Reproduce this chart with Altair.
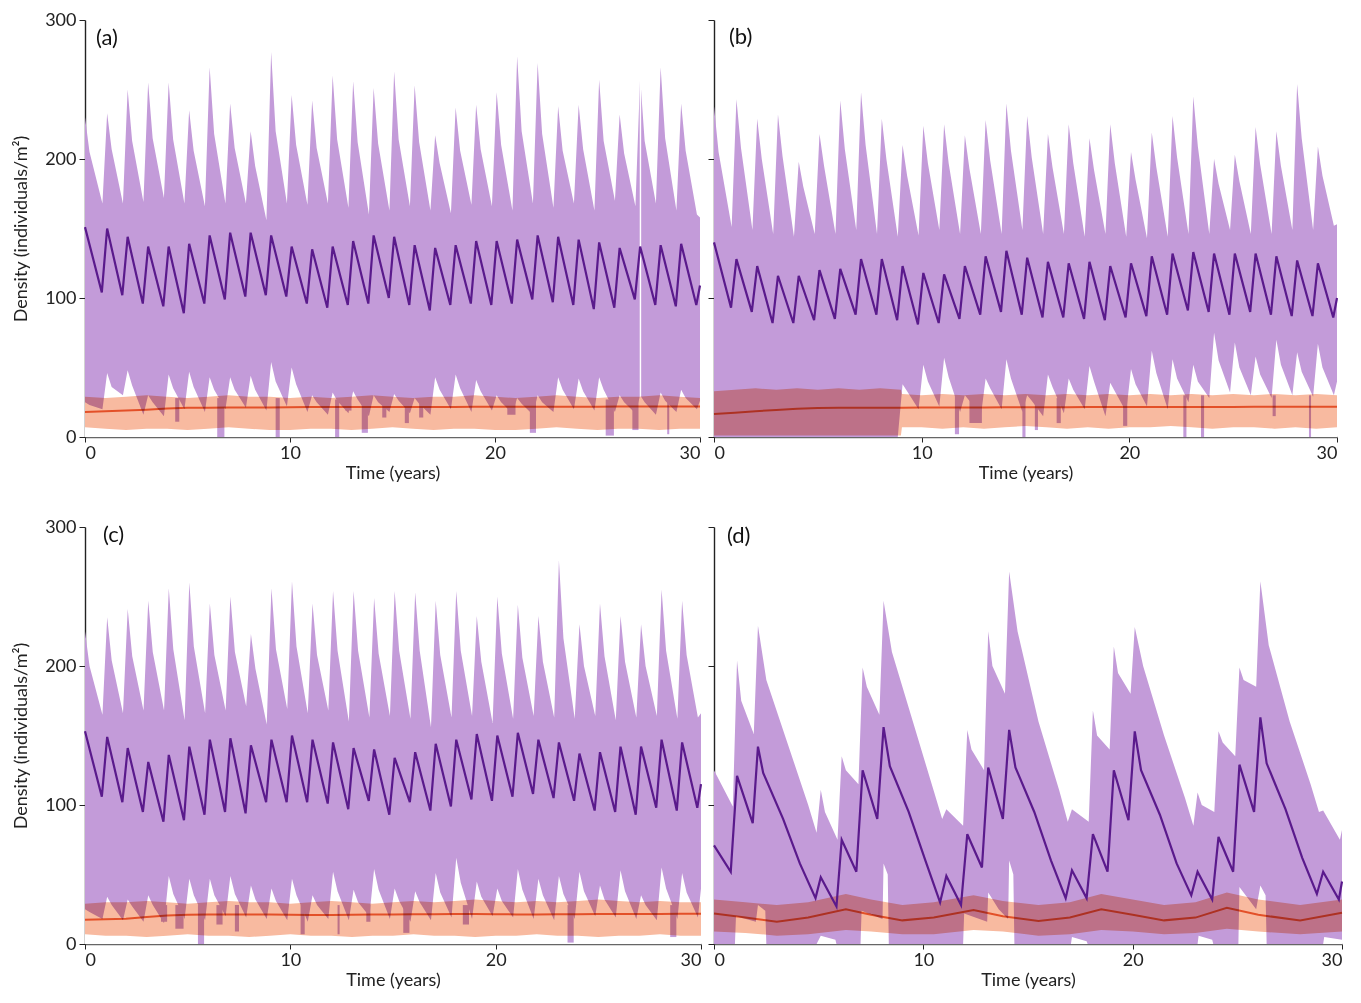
import altair as alt
import pandas as pd

FONT = "Lato"
PURPLE_BAND = "#C39BD9"
PURPLE_LINE = "#5A1A8C"
ORANGE_BAND = "#F8BAA0"
ORANGE_LINE = "#EA6E40"

# ---------------- panel (a) ----------------
A_MEAN_PK = [151,150,144,137,137,139,145,147,147,145,137,135,137,141,145,144,138,136,138,141,141,142,145,144,142,140,136,137,138,139]
A_MEAN_TR = [104,102,96,94,89,96,99,101,102,101,96,93,95,96,100,95,91,95,96,95,96,99,97,95,92,93,99,95,94,95]
A_MEAN_END = 109
A_UP_PK = [230,233,250,255,255,235,266,240,220,277,246,242,260,256,251,263,253,217,237,239,248,274,269,238,239,257,232,259,266,240]
A_UP_SH = [205,207,213,215,214,206,218,208,195,220,210,208,214,212,211,214,212,197,206,207,210,220,218,206,207,213,204,213,215,206]
A_UP_TR = [168,168,169,172,168,166,168,168,156,168,167,168,165,160,163,166,163,161,167,166,163,168,165,168,163,170,166,168,163,160]
A_UP_END = 158
A_LO_PK = [25,46,48,30,45,47,43,43,44,54,50,30,32,33,30,31,28,43,45,41,30,28,30,43,42,43,30,30,32,34]
A_LO_SH = [23,36,37,25,35,36,34,34,34,40,38,25,26,27,25,26,24,34,35,33,25,24,25,34,33,34,25,25,26,28]
A_LO_TR = [20,30,16,15,20,18,20,21,19,22,18,16,17,15,18,17,16,20,18,19,17,16,18,20,19,18,17,16,18,20]
A_LO_END = 26
A_DIP_T0 = [4.4, 6.45, 9.3, 12.2, 12.7, 13.5, 14.5, 15.6, 16.3, 20.6, 21.7, 25.4, 26.7, 28.4]
A_DIP_T1 = [4.6, 6.8, 9.5, 12.4, 13.0, 13.8, 14.7, 15.8, 16.5, 21.0, 22.0, 25.8, 27.0, 28.5]
A_DIP_BOT = [11, 0, 0, 0, 19, 3, 14, 10, 14, 16, 3, 1, 5, 2]
A_DIP_TOP = [28, 28, 28, 27, 28, 27, 27, 27, 27, 27, 27, 27, 27, 27]
A_GAP_T0 = [27.06]
A_GAP_T1 = [27.13]
A_GAP_BOT = [29]
A_GAP_TOP = [300]
A_OR_T = list(range(31))
A_OR_UP = [29,28,29,30,29,28,29,30,29,29,28,29,28,29,30,29,28,29,29,30,29,28,29,30,29,28,29,29,30,29,28]
A_OR_LO = [7,6,5,6,6,5,6,7,6,5,5,6,6,5,6,7,6,5,6,6,5,5,6,7,6,5,6,6,5,6,6]
A_OR_MN = [18,18.5,19,19.6,20.5,21,21,21.2,21.3,21.3,21.4,21.5,21.5,21.5,21.6,21.6,21.5,21.5,21.6,21.7,21.7,21.7,21.8,21.8,21.8,21.8,21.9,21.9,21.9,22,22]

# ---------------- panel (b) ----------------
B_MEAN_PK = [140,128,123,116,116,120,121,128,128,123,118,117,123,130,134,129,126,125,126,123,125,130,132,133,132,132,132,130,127,125]
B_MEAN_TR = [93,90,82,82,84,85,88,88,84,81,82,85,88,90,88,86,86,85,84,86,87,88,91,90,88,90,88,87,87,86]
B_MEAN_END = 100
B_UP_PK = [238,243,229,232,198,218,242,248,229,210,224,225,217,228,240,231,218,225,215,225,205,219,231,245,200,203,223,220,254,209]
B_UP_SH = [205,208,200,202,180,195,207,210,200,188,197,197,193,199,206,201,194,197,192,197,185,194,201,209,182,184,196,195,215,188]
B_UP_TR = [151,149,146,144,146,146,149,146,144,145,149,146,146,146,149,146,146,144,146,144,143,144,146,146,149,146,146,149,149,152]
B_UP_END = 153
B_LO_PK = [0,0,0,0,0,0,0,0,0,38,52,57,30,42,56,30,45,42,51,39,49,62,56,52,75,68,58,70,61,67]
B_LO_SH = [0,0,0,0,0,0,0,0,0,33,40,43,26,35,42,26,36,34,40,33,38,46,42,40,55,50,45,52,47,50]
B_LO_TR = [0,0,0,0,0,0,0,0,0,20,22,18,15,20,18,15,17,20,15,18,22,20,25,28,32,30,28,30,29,30]
B_LO_END = 40
B_DIP_T0 = [11.6, 12.3, 14.85, 15.45, 16.5, 19.7, 22.6, 23.45, 26.9, 28.65]
B_DIP_T1 = [11.8, 12.9, 15.0, 15.6, 16.7, 19.9, 22.75, 23.6, 27.05, 28.75]
B_DIP_BOT = [2, 10, 0, 5, 10, 8, 0, 0, 15, 0]
B_DIP_TOP = [30, 28, 30, 30, 28, 28, 30, 30, 30, 30]
B_OR_T = [0,1,2,3,4,5,6,7,8,9,9.05,10,11,12,13,14,15,16,17,18,19,20,21,22,23,24,25,26,27,28,29,30]
B_OR_UP = [33,34,35,34,35,34,35,34,35,34,31,30,31,30,31,30,31,30,31,30,31,30,31,30,31,30,31,30,31,30,31,30]
B_OR_LO = [1,1,1,1,1,1,1,1,1,1,7,7,6,7,6,7,8,7,6,7,6,7,7,8,7,6,7,7,6,7,6,7]
B_OR_MN = [16.5,17.5,18.5,19.5,20.3,20.8,21,21,21,21.1,21.1,21.2,21.2,21.3,21.3,21.4,21.4,21.4,21.4,21.5,21.5,21.5,21.5,21.6,21.6,21.6,21.6,21.7,21.7,21.7,21.7,21.7]

# ---------------- panel (c) ----------------
C_MEAN_PK = [153,149,141,131,136,142,147,148,143,147,150,147,145,141,140,134,138,144,147,151,150,152,147,145,137,138,142,142,147,145]
C_MEAN_TR = [106,102,95,88,89,93,95,94,102,102,102,101,97,103,93,102,96,99,104,103,106,108,105,103,96,95,93,98,96,98]
C_MEAN_END = 115
C_UP_PK = [225,235,241,247,256,260,245,250,223,256,261,245,254,254,249,254,253,247,254,236,250,244,236,276,230,245,236,230,255,247]
C_UP_SH = [200,204,207,210,212,214,208,210,198,212,214,208,211,211,209,211,211,208,211,203,209,206,203,220,200,207,203,200,211,208]
C_UP_TR = [165,166,168,168,161,166,168,171,158,169,166,168,160,163,164,162,156,163,164,159,162,164,163,162,164,161,163,164,162,163]
C_UP_END = 166
C_LO_PK = [25,34,32,35,49,47,47,49,42,40,47,35,52,39,54,40,38,51,62,45,40,54,47,49,52,42,53,35,55,51]
C_LO_SH = [23,28,27,28,36,35,35,36,32,31,35,28,38,30,39,31,30,37,44,34,31,39,35,36,38,32,38,28,40,37]
C_LO_TR = [18,17,16,15,18,17,20,19,18,17,16,18,17,20,18,16,17,19,18,20,19,18,17,18,20,19,18,17,18,19]
C_LO_END = 40
C_DIP_T0 = [3.7, 4.4, 5.5, 6.4, 7.3, 10.5, 12.3, 13.7, 15.5, 18.4, 23.5, 28.5]
C_DIP_T1 = [4.0, 4.8, 5.8, 6.7, 7.5, 10.7, 12.4, 13.9, 15.8, 18.7, 23.8, 28.8]
C_DIP_BOT = [16, 11, 0, 14, 9, 7, 7, 16, 8, 14, 1, 5]
C_DIP_TOP = [28, 28, 28, 28, 28, 28, 28, 28, 28, 28, 28, 28]
C_OR_T = list(range(31))
C_OR_UP = [29,30,30,31,30,29,30,31,30,30,29,30,31,30,29,30,31,30,31,32,31,30,31,30,31,32,31,30,31,30,30]
C_OR_LO = [7,6,6,5,6,7,6,6,5,6,7,6,6,5,6,6,7,6,6,5,6,6,7,6,6,5,6,6,7,6,6]
C_OR_MN = [17.5,17.8,18.2,19.5,20.5,21,21.2,21.3,21.3,21.2,21,20.8,20.8,21,21.2,21.3,21.4,21.4,21.5,21.5,21.4,21.3,21.3,21.4,21.4,21.5,21.5,21.6,21.6,21.7,21.7]

# ---------------- panel (d) ----------------
D_MEAN_T = [0,0.8,1.1,1.85,2.1,2.35,3.3,4.1,4.85,5.1,5.85,6.1,6.8,7.1,7.8,8.1,8.4,9.3,10.1,10.8,11.1,11.8,12.1,12.8,13.1,13.8,14.1,14.4,15.3,16.1,16.8,17.1,17.8,18.1,18.8,19.1,19.8,20.1,20.4,21.3,22.1,22.8,23.1,23.8,24.1,24.8,25.1,25.8,26.1,26.4,27.3,28.1,28.8,29.1,29.85,30]
D_MEAN_V = [71,52,121,87,142,123,90,58,33,48,27,75,52,125,90,156,128,95,60,30,49,28,79,55,127,90,154,127,95,60,33,53,33,79,52,125,89,153,125,93,58,35,52,32,77,52,129,95,163,130,97,62,36,52,32,45]
D_UP_T = [0,0.9,1.1,1.3,1.9,2.1,2.5,3.5,4.5,4.9,5.1,5.3,5.9,6.1,6.3,6.9,7.1,7.3,7.9,8.1,8.5,9.5,10.5,10.9,11.1,11.9,12.1,12.3,12.9,13.1,13.3,13.9,14.1,14.5,15.5,16.5,16.9,17.1,17.9,18.1,18.3,18.9,19.1,19.3,19.9,20.1,20.5,21.5,22.5,22.9,23.1,23.3,23.9,24.1,24.3,24.9,25.1,25.3,25.9,26.1,26.5,27.5,28.5,28.9,29.1,29.9,30]
D_UP_V = [125,99,204,175,151,229,190,145,100,80,111,95,75,135,125,115,199,185,165,247,210,160,110,90,97,85,154,140,125,225,200,180,268,225,160,110,88,97,88,168,150,140,214,195,180,228,200,150,105,85,109,100,95,153,145,135,199,190,185,261,215,160,115,95,96,75,82]
D_LO_T = [0,1.0,1.05,2.0,2.1,2.45,2.5,4.9,5.1,5.8,5.85,7.0,7.05,8.05,8.1,8.3,8.35,11.9,11.95,13.05,13.1,13.6,14.05,14.1,14.3,14.35,17.05,17.1,17.8,17.85,23.1,23.15,23.8,23.85,25.05,25.1,25.9,26.1,26.35,26.4,29.1,29.15,30]
D_LO_V = [0,0,20,16,28,24,0,0,6,3,0,0,24,18,58,50,0,0,22,16,37,25,18,60,50,0,0,5,2,0,0,6,3,0,0,41,25,42,35,0,0,5,3]
D_OR_T = [0,1.5,3,4.5,6.3,7.5,9,10.5,12.4,13.8,15.5,17,18.5,20,21.5,23,24.5,26,28,30]
D_OR_MN = [22,19,16,19,25,21,17,19,24.5,20,16.6,19,25,21,17,19,26,21,17,22.5]
D_OR_UP = [32,30,28,30,36,32,28,30,35,31,28,30,36,32,28,30,37,32,28,32]
D_OR_LO = [9,8,6,7,10,9,7,7,10,9,6,7,10,9,7,8,11,9,7,9]


def saw_band(pk, sh, tr, end):
    ts, vs = [], []
    for k in range(30):
        ts += [0.0 if k == 0 else k + 0.08, k + (0.22 if k == 0 else 0.3), k + 0.85]
        vs += [pk[k], sh[k], tr[k]]
    ts.append(30.0)
    vs.append(end)
    return pd.DataFrame({"t": ts, "v": vs})


def saw_mean(pk, tr, end):
    ts, vs = [], []
    for k in range(30):
        ts += [0.0 if k == 0 else k + 0.08, k + 0.82]
        vs += [pk[k], tr[k]]
    ts.append(30.0)
    vs.append(end)
    return pd.DataFrame({"t": ts, "v": vs})


def rects(t0, t1, bot, top):
    return pd.DataFrame({"t": t0, "t1": t1, "v": bot, "v1": top})


def panel(label, up, lo, mean, orng, dips, gaps, width, height, left, lx, ly):
    xs = alt.Scale(domain=[0, 30], nice=False, zero=False)
    ys = alt.Scale(domain=[0, 300], nice=False)
    xax = alt.Axis(values=[0, 10, 20, 30], title="Time (years)", tickSize=5,
                   domainColor="#666", labelPadding=2, titlePadding=2)
    if left:
        yax = alt.Axis(values=[0, 100, 200, 300], title="Density (individuals/m²)",
                       tickSize=6, labelPadding=3, titlePadding=14)
    else:
        yax = alt.Axis(values=[0, 100, 200, 300], title=None, labels=False, tickSize=6)
    X = alt.X("t:Q", scale=xs, axis=xax)
    Y = alt.Y("v:Q", scale=ys, axis=yax)

    layers = [
        alt.Chart(up).mark_area(color=PURPLE_BAND).encode(x=X, y=Y),
        alt.Chart(lo).mark_area(color="white").encode(x=X, y=Y),
    ]
    if dips is not None:
        layers.append(alt.Chart(dips).mark_rect(color=PURPLE_BAND)
                      .encode(x=X, x2="t1:Q", y=Y, y2="v1:Q"))
    if gaps is not None:
        layers.append(alt.Chart(gaps).mark_rect(color="white")
                      .encode(x=X, x2="t1:Q", y=Y, y2="v1:Q"))
    layers += [
        alt.Chart(orng).mark_area(color=ORANGE_BAND, blend="multiply")
        .encode(x=X, y=Y, y2="v1:Q"),
        alt.Chart(orng).mark_line(color=ORANGE_LINE, strokeWidth=2, blend="multiply")
        .encode(x=X, y=alt.Y("m:Q", scale=ys, axis=yax)),
        alt.Chart(mean).mark_line(color=PURPLE_LINE, strokeWidth=2.2).encode(x=X, y=Y),
        alt.Chart(pd.DataFrame({"s": [label]})).mark_text(
            font=FONT, fontSize=22, align="left", baseline="middle", color="#111"
        ).encode(x=alt.value(lx), y=alt.value(ly), text="s:N"),
    ]
    return alt.layer(*layers).properties(width=width, height=height)


def orange_df(t, up, lo, mn):
    return pd.DataFrame({"t": t, "v": up, "v1": lo, "m": mn})


pa = panel("(a)", saw_band(A_UP_PK, A_UP_SH, A_UP_TR, A_UP_END),
           saw_band(A_LO_PK, A_LO_SH, A_LO_TR, A_LO_END),
           saw_mean(A_MEAN_PK, A_MEAN_TR, A_MEAN_END),
           orange_df(A_OR_T, A_OR_UP, A_OR_LO, A_OR_MN),
           rects(A_DIP_T0, A_DIP_T1, A_DIP_BOT, A_DIP_TOP),
           rects(A_GAP_T0, A_GAP_T1, A_GAP_BOT, A_GAP_TOP),
           615, 417, True, 11, 18)
pb = panel("(b)", saw_band(B_UP_PK, B_UP_SH, B_UP_TR, B_UP_END),
           saw_band(B_LO_PK, B_LO_SH, B_LO_TR, B_LO_END),
           saw_mean(B_MEAN_PK, B_MEAN_TR, B_MEAN_END),
           orange_df(B_OR_T, B_OR_UP, B_OR_LO, B_OR_MN),
           rects(B_DIP_T0, B_DIP_T1, B_DIP_BOT, B_DIP_TOP),
           None, 623, 417, False, 15, 17)
pc = panel("(c)", saw_band(C_UP_PK, C_UP_SH, C_UP_TR, C_UP_END),
           saw_band(C_LO_PK, C_LO_SH, C_LO_TR, C_LO_END),
           saw_mean(C_MEAN_PK, C_MEAN_TR, C_MEAN_END),
           orange_df(C_OR_T, C_OR_UP, C_OR_LO, C_OR_MN),
           rects(C_DIP_T0, C_DIP_T1, C_DIP_BOT, C_DIP_TOP),
           None, 616, 417, True, 18, 8)
pd_ = panel("(d)", pd.DataFrame({"t": D_UP_T, "v": D_UP_V}),
            pd.DataFrame({"t": D_LO_T, "v": D_LO_V}),
            pd.DataFrame({"t": D_MEAN_T, "v": D_MEAN_V}),
            orange_df(D_OR_T, D_OR_UP, D_OR_LO, D_OR_MN),
            None, None, 628, 417, False, 13, 9)

chart = (
    alt.concat(pa, pb, pc, pd_, columns=2, spacing={"row": 90, "column": 13}, bounds="flush")
    .properties(padding={"left": 4, "top": 3, "right": 0, "bottom": 0})
    .configure_view(stroke=None)
    .configure_axis(
        labelFont=FONT, titleFont=FONT, labelFontSize=18, titleFontSize=18,
        titleFontWeight="normal", labelColor="#222", titleColor="#222",
        grid=False, zindex=1, tickColor="#222", domainColor="#222", domainWidth=1.4,
    )
)
chart.save("out.html", embed_options={"renderer": "svg", "actions": False})
